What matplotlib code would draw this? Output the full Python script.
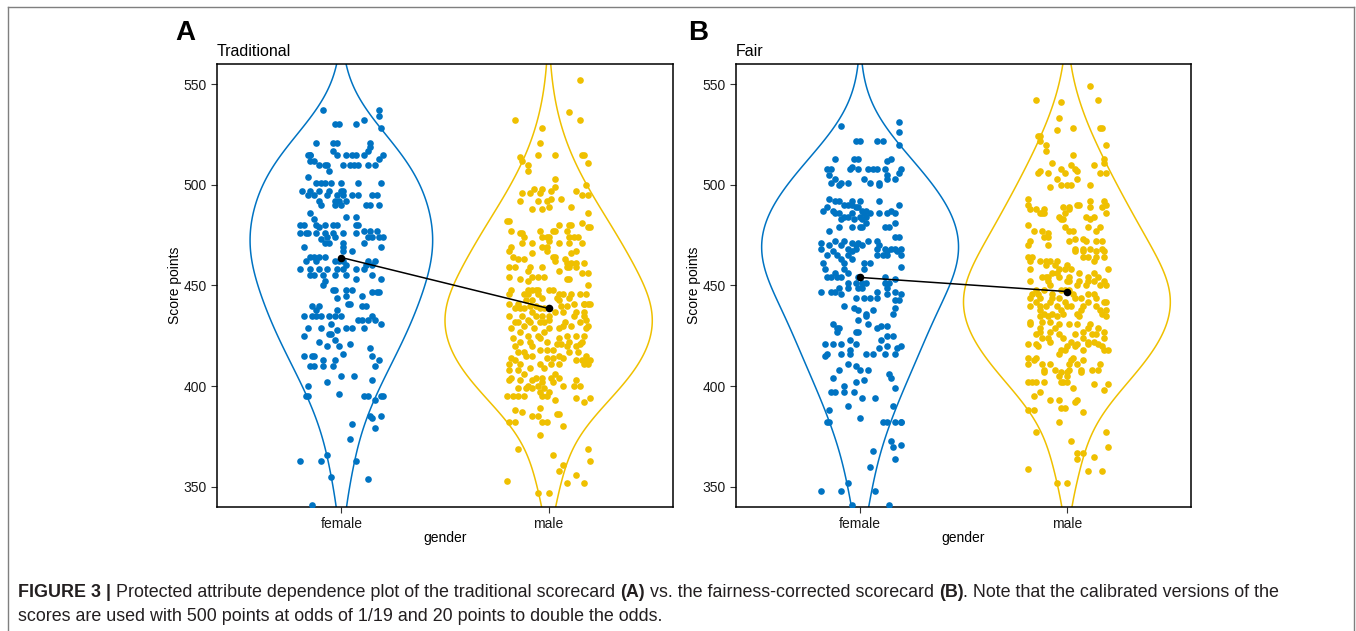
import numpy as np
import matplotlib
matplotlib.use("Agg")
import matplotlib.pyplot as plt
from matplotlib import mlab
from matplotlib.lines import Line2D

plt.rcParams['font.family'] = ['Liberation Sans', 'DejaVu Sans']

categories = ["female", "male"]
colors = ["#0073C2", "#EFC000"]
panel_titles = ["Traditional", "Fair"]
panel_tags = ["A", "B"]

# group means (black dots joined by a line)
mean_trad = [463.9, 438.6]
mean_fair = [454.0, 447.0]

# ---- Traditional, female ----
trad_f_score = [
    537, 537, 534, 528, 532, 530, 530, 530,
    521, 521, 521, 521, 519, 517, 517,
    515, 515, 515, 515, 515, 515, 515, 515, 515,
    513, 512, 512, 510, 510,
    510, 510, 510, 510, 510, 510, 510,
    507, 504,
    501, 501, 501, 501, 501, 501, 501,
    497, 497, 497, 497, 497, 497,
    495, 495, 495, 495, 495, 495, 495, 495, 495,
    492, 492, 492, 492, 490, 490, 490, 490, 490, 490,
    486, 484, 484, 483,
    480, 480, 480, 480, 480, 480, 480, 480, 479,
    477, 477, 477, 476, 476, 476, 476, 476, 476, 476, 476,
    474, 474, 474, 474, 474, 474, 473,
    471, 471, 471, 471, 469, 469, 469, 467, 467,
    464, 464, 464, 464, 462, 462, 462, 462, 462, 462, 462,
    460, 460, 460, 458, 458, 458, 458, 458, 458, 458, 458,
    455, 455, 455, 455, 455, 455, 453, 453, 452,
    450, 448, 448, 448, 448, 447, 447, 447,
    445, 445, 444, 441, 441,
    440, 440, 440, 440, 438, 438,
    435, 435, 435, 435, 435, 435, 435, 435,
    433, 433, 433, 433, 431, 431,
    429, 429, 429, 429, 429, 428,
    426, 426, 425, 423, 422, 421, 420, 420, 419,
    416, 415, 415, 415, 415, 413, 413, 413,
    410, 410, 410, 410, 410, 405, 405, 403, 402, 400,
    396, 395, 395, 395, 395, 395, 395, 393,
    385, 385, 384, 381, 379, 374,
    366, 363, 363, 363, 355, 354, 341,
]
trad_f_jit = [
    -0.09, 0.18, 0.18, 0.19, 0.11, -0.03, -0.01, 0.07,
    -0.12, -0.04, -0.02, 0.14, 0.14, -0.04, 0.13,
    -0.16, -0.15, -0.15, -0.02, 0.02, 0.05, 0.07, 0.11, 0.20,
    0.18, -0.15, -0.13, 0.04, 0.06,
    -0.11, -0.08, -0.07, 0.01, 0.08, 0.13, 0.16,
    -0.06, -0.16,
    -0.12, -0.10, -0.08, -0.05, 0.00, 0.08, 0.19,
    -0.19, -0.15, -0.11, -0.06, 0.00, 0.01,
    0.15, 0.17, -0.16, -0.13, -0.07, -0.02, 0.01, 0.05, 0.08,
    -0.11, -0.03, -0.01, 0.02, -0.10, -0.03, 0.00, 0.12, 0.14, 0.18,
    -0.15, 0.02, 0.07, -0.13,
    -0.20, -0.18, -0.12, -0.08, -0.04, -0.02, 0.07, 0.08, -0.11,
    0.17, 0.11, 0.14, -0.20, -0.17, -0.16, -0.12, -0.08, -0.04, 0.01, 0.07,
    0.20, -0.07, -0.03, 0.13, 0.15, 0.18, -0.10,
    -0.08, -0.06, 0.01, 0.11, -0.18, 0.01, 0.19, 0.01, 0.05,
    -0.15, -0.13, -0.11, -0.08, -0.17, -0.12, -0.03, -0.01, 0.01, 0.13, 0.16,
    0.02, 0.12, 0.15, -0.20, -0.15, -0.11, -0.07, -0.02, 0.01, 0.07, 0.11,
    -0.15, -0.13, -0.09, -0.03, 0.02, 0.15, 0.07, 0.19, -0.08,
    -0.09, -0.04, -0.03, 0.02, 0.05, 0.15, 0.17, 0.18,
    0.02, 0.10, -0.02, 0.03, 0.04,
    0.10, 0.12, -0.14, -0.11, -0.12, -0.02,
    -0.18, -0.14, -0.12, -0.10, -0.06, -0.03, 0.00, 0.15,
    0.08, 0.10, 0.13, 0.16, -0.05, 0.19,
    -0.16, -0.10, 0.02, 0.05, 0.11, -0.02,
    -0.06, -0.05, -0.18, -0.03, -0.11, 0.04, -0.07, -0.01, 0.14,
    0.01, -0.18, -0.14, -0.13, 0.15, -0.09, -0.03, 0.18,
    -0.15, -0.13, -0.09, -0.04, 0.16, 0.00, 0.06, 0.15, -0.07, -0.16,
    -0.01, -0.17, -0.16, 0.11, 0.13, 0.19, 0.20, 0.16,
    0.14, 0.19, 0.15, 0.05, 0.16, 0.04,
    -0.07, -0.20, -0.10, 0.07, -0.05, 0.13, -0.14,
]

# ---- Traditional, male ----
trad_m_score = [
    552, 536, 532, 532, 528, 521,
    515, 515, 515, 515, 514, 512, 511, 510,
    507, 503, 500, 499, 498, 498, 497, 497,
    496, 496, 496, 495, 495, 493, 493,
    492, 492, 492, 489, 489, 488, 488, 486,
    482, 482, 481, 480, 480, 480, 479, 479,
    477, 477, 477, 477, 477, 476, 476,
    474, 474, 474, 474, 474, 474, 474, 472,
    471, 471, 471, 471, 471, 469, 469, 469,
    467, 467, 467, 466, 466,
    464, 464, 464, 463, 463, 463, 462,
    461, 461, 461, 461,
    459, 459, 459, 459, 459, 459, 459,
    457, 457, 456, 456,
    454, 454, 454, 454, 453, 453, 453, 452,
    450, 448, 448, 448, 448, 448, 448, 448,
    446, 446, 446, 446, 446, 446, 446, 446, 446,
    444, 444, 444, 443, 443, 443,
    441, 441, 441, 441, 441, 441, 441,
    440, 440, 440, 440, 439, 439, 439, 439, 439,
    437, 437, 437, 437, 437,
    435, 435, 435, 435, 435, 435, 435,
    433, 433, 433,
    432, 432, 432, 432, 432, 432, 432,
    430, 430, 430, 430,
    429, 429, 429, 429, 429, 427, 427,
    425, 425, 425, 425, 425, 424, 424, 424,
    422, 422, 422, 422, 422, 421, 421, 421,
    420, 420, 420, 420, 418, 418, 418,
    417, 417, 417, 417, 415, 415, 415, 415,
    414, 414, 414, 414, 413, 413, 413, 413, 413,
    411, 411, 411, 411, 411, 411, 411,
    409, 409, 408, 408, 406, 406,
    404, 404, 404, 404, 404, 403, 403, 403, 403,
    402, 402, 400, 400, 400, 400, 400,
    399, 399, 399, 399, 397, 397,
    395, 395, 395, 395, 395, 395, 394, 394, 393,
    392, 389, 388, 387, 386, 386, 385, 385,
    382, 382, 382, 382, 380, 376,
    369, 369, 366, 363, 361, 358, 356, 353, 352, 352, 347, 347,
]
trad_m_jit = [
    0.15, 0.10, 0.15, -0.16, -0.03, -0.04,
    0.03, -0.05, 0.16, 0.17, -0.14, -0.13, 0.19, -0.10,
    -0.10, 0.03, 0.18, 0.03, -0.07, -0.03, 0.01, 0.13,
    -0.13, -0.09, -0.04, 0.16, 0.19, 0.01, 0.06,
    -0.14, -0.05, -0.01, 0.00, 0.11, -0.08, -0.03, 0.19,
    -0.20, -0.19, 0.16, 0.05, 0.10, 0.11, 0.19, 0.20,
    -0.18, -0.04, 0.02, 0.03, 0.09, -0.14, -0.13,
    -0.12, -0.03, -0.01, 0.00, 0.10, 0.12, 0.14, 0.00,
    -0.13, -0.08, 0.05, 0.10, 0.16, -0.18, -0.03, -0.01,
    -0.19, -0.01, 0.13, -0.08, 0.11,
    -0.17, 0.02, 0.03, -0.15, -0.12, 0.08, 0.03,
    0.09, 0.11, 0.13, 0.17,
    -0.19, -0.16, -0.09, -0.03, 0.09, 0.10, 0.13,
    -0.10, 0.05, 0.16, 0.19,
    -0.19, -0.08, -0.05, -0.02, -0.14, 0.09, 0.10, -0.10,
    0.19, -0.18, -0.10, -0.08, -0.06, -0.05, 0.00, 0.02,
    -0.19, -0.12, 0.07, 0.11, 0.15, -0.10, -0.05, 0.05, 0.18,
    -0.03, 0.04, 0.10, -0.11, -0.08, 0.05,
    -0.19, -0.15, 0.12, 0.17, 0.17, 0.19, 0.20,
    -0.09, -0.06, 0.06, 0.09, -0.16, -0.14, -0.12, -0.04, -0.02,
    0.13, 0.17, -0.08, 0.03, 0.07,
    -0.19, -0.13, -0.06, -0.03, 0.00, 0.12, 0.17,
    -0.10, 0.00, 0.18,
    -0.16, -0.15, -0.09, -0.04, -0.02, 0.08, 0.15,
    -0.12, 0.07, 0.11, 0.19,
    -0.18, -0.07, 0.00, 0.05, 0.18, -0.14, -0.02,
    -0.10, -0.05, 0.09, 0.13, 0.17, -0.17, -0.04, 0.05,
    -0.14, -0.09, -0.01, 0.10, 0.16, 0.04, 0.06, 0.15,
    -0.16, -0.08, 0.09, 0.13, -0.04, -0.01, 0.02,
    -0.15, -0.12, 0.10, 0.14, -0.11, -0.08, 0.05, 0.18,
    -0.18, -0.01, 0.02, 0.07, -0.16, 0.13, 0.16, 0.18, 0.20,
    -0.19, -0.14, -0.04, 0.01, 0.05, 0.17, 0.19,
    -0.09, -0.02, -0.19, -0.15, -0.12, 0.03,
    -0.18, -0.06, -0.03, 0.01, 0.05, -0.19, -0.14, -0.08, 0.13,
    -0.03, 0.02, -0.10, -0.05, 0.07, 0.12, 0.15,
    -0.15, -0.11, -0.08, -0.02, -0.04, 0.00,
    -0.20, -0.17, -0.15, -0.12, -0.03, -0.01, 0.13, 0.20, 0.03,
    0.17, -0.04, -0.16, -0.13, 0.04, 0.05, -0.08, -0.05,
    -0.19, -0.16, -0.03, -0.01, 0.07, -0.04,
    -0.15, 0.19, 0.02, 0.20, 0.07, 0.05, 0.13, -0.20, 0.09, 0.17, -0.05, 0.00,
]

# ---- Fair, female ----
fair_f_score = [
    531, 529, 526, 522, 522, 522, 522, 520,
    513, 513, 513, 513, 512, 509,
    508, 508, 508, 508, 508, 508, 508, 508, 508,
    506, 505, 505,
    503, 503, 503, 503,
    501, 501, 501, 501, 501, 500, 500,
    493, 492, 492, 492, 492, 492,
    490, 490, 490, 490, 489, 489, 489,
    487, 487, 487, 487, 487,
    486, 486, 486, 486, 486, 486, 486, 486,
    484, 484, 484, 484, 483, 483, 483,
    481, 481, 479, 479, 479, 479, 479, 479,
    477, 474, 474,
    472, 472, 472, 472, 471, 471, 471,
    470, 470, 470, 470, 470,
    468, 468, 468, 468, 468, 468, 468, 468,
    467, 467, 467, 467,
    465, 465, 465, 465, 465, 465, 465,
    463, 463, 461, 461, 461, 461,
    459, 458, 458, 458, 456, 456,
    454, 454, 454, 454, 454, 454, 453,
    451, 451, 451, 451, 451, 451,
    449, 449, 449, 449, 449,
    447, 447, 447, 447, 447,
    446, 446, 446, 444, 444, 444, 444,
    443, 443, 440, 439, 439, 438, 438,
    436, 436, 435, 433,
    431, 431, 430, 430, 429, 429, 429,
    427, 427, 427, 425, 425,
    423, 423, 421, 421, 421, 421,
    420, 420, 419, 419, 418,
    416, 416, 416, 416, 416, 416, 416, 415,
    411, 410, 408, 408, 408, 406,
    404, 404, 403, 402, 400, 399,
    397, 397, 397, 397, 394, 394,
    390, 390, 388, 384,
    382, 382, 382, 382, 382, 382, 382,
    373, 371, 370, 368, 364, 360, 352, 348, 348, 348, 341, 341,
]
fair_f_jit = [
    0.19, -0.09, 0.19, -0.02, 0.00, 0.08, 0.11, 0.19,
    -0.12, -0.03, -0.01, 0.15, 0.13, -0.04,
    -0.16, -0.14, -0.05, -0.01, 0.04, 0.06, 0.08, 0.12, 0.20,
    0.19, -0.15, 0.13,
    -0.12, 0.02, 0.13, 0.17,
    -0.14, -0.09, -0.06, 0.05, 0.09, -0.10, 0.09,
    -0.15, -0.12, -0.10, -0.04, 0.00, 0.09,
    -0.08, -0.06, -0.04, 0.19, -0.16, -0.01, -0.02,
    -0.18, -0.13, 0.01, 0.03, 0.15,
    -0.12, -0.10, -0.04, 0.02, 0.05, 0.09, 0.13, 0.17,
    -0.08, -0.06, 0.00, 0.03, -0.09, -0.03, 0.01,
    0.03, 0.17, -0.10, -0.04, 0.00, 0.01, 0.12, 0.14,
    -0.15, 0.17, 0.19,
    -0.12, -0.08, 0.04, 0.08, -0.19, -0.04, -0.01,
    -0.15, -0.09, -0.02, 0.01, 0.09,
    -0.19, -0.06, -0.02, 0.08, 0.12, 0.15, 0.17, 0.20,
    -0.13, -0.04, 0.13, 0.18,
    -0.16, -0.11, -0.06, 0.08, 0.11, 0.13, 0.20,
    -0.09, -0.04, -0.18, -0.08, 0.02, 0.05,
    0.20, -0.17, -0.08, 0.02, -0.12, -0.06,
    -0.16, -0.14, -0.11, -0.09, -0.01, 0.12, 0.17,
    -0.06, -0.02, 0.01, 0.03, 0.12, 0.14,
    -0.10, -0.06, -0.01, 0.01, 0.13,
    -0.19, -0.14, -0.12, 0.08, 0.17,
    -0.09, 0.13, 0.20, -0.02, 0.02, 0.05, 0.08,
    0.19, 0.17, -0.08, -0.03, 0.17, -0.01, 0.06,
    0.03, 0.16, 0.03, -0.01,
    -0.13, 0.04, 0.10, 0.13, -0.10, -0.11, 0.08,
    -0.11, -0.02, -0.01, 0.13, 0.16,
    -0.05, 0.10, -0.17, -0.13, -0.09, -0.02,
    0.13, 0.20, 0.09, 0.18, -0.05,
    -0.16, -0.09, -0.05, 0.03, 0.06, 0.12, 0.17, -0.17,
    -0.06, -0.02, -0.10, 0.00, 0.04, 0.14,
    -0.13, 0.15, 0.02, -0.02, -0.08, 0.17,
    -0.14, -0.12, -0.08, -0.03, 0.01, 0.07,
    -0.06, 0.16, -0.15, 0.00,
    -0.16, -0.15, 0.11, 0.13, 0.17, 0.20, 0.20,
    0.15, 0.20, 0.16, 0.06, 0.17, 0.05, -0.06, -0.19, -0.09, 0.07, -0.04, 0.14,
]

# ---- Fair, male ----
fair_m_score = [
    549, 542, 542, 541, 533, 528, 528, 528,
    527, 524, 524, 522, 520, 520, 517, 515,
    513, 511, 511, 510, 510, 508, 508, 507, 507,
    506, 506, 506, 506, 506, 503, 503,
    500, 500, 500, 500, 499,
    493, 492, 492,
    490, 490, 490, 490, 489, 489, 489, 489,
    488, 488, 488, 488, 486, 486, 486, 486, 486,
    484, 484, 484, 483, 483, 483,
    480, 479, 479, 479, 477, 477, 477, 477, 477,
    476, 474, 474, 473, 473,
    472, 472, 472, 472, 472, 470, 470,
    468, 468, 468, 468, 467, 467, 467, 467,
    464, 464, 464, 464, 464, 464,
    462, 462, 462, 462, 462, 462,
    460, 460, 460, 458, 458, 458, 458, 458,
    456, 456, 456, 456,
    454, 454, 454, 454, 454, 454, 454,
    452, 452, 452, 452, 452, 452, 452, 452,
    450, 450, 450, 450, 450,
    448, 448, 448, 448, 448,
    446, 446, 446, 446, 446, 446,
    444, 444, 444, 444, 444, 444, 444,
    442, 442, 442, 442, 442, 442,
    440, 440, 440, 440, 440, 440, 440, 440,
    438, 438, 438, 438, 438,
    436, 436, 436, 436, 436,
    435, 435, 435, 435, 435,
    432, 432, 432, 431, 431, 431, 431, 431,
    429, 429, 429, 429, 427, 427, 427, 427,
    426, 426, 426, 426, 426, 424, 424, 424, 424, 424,
    422, 422, 422, 422, 421, 421, 421, 421, 421,
    420, 420, 420, 420, 418, 418, 418, 418, 418,
    416, 414, 414, 414, 413, 413, 413,
    411, 411, 411, 411, 411, 411,
    408, 408, 408, 408, 408, 408, 407, 407, 407, 407,
    405, 405, 402, 402, 402, 402, 402, 402, 402,
    401, 401, 399, 398, 397, 395,
    393, 393, 393, 392, 389, 389, 388, 388, 387,
    382, 377, 377, 373, 370, 367, 367, 365, 364, 359, 358, 358, 352, 352,
]
fair_m_jit = [
    0.11, -0.15, 0.15, -0.03, -0.04, 0.03, 0.16, 0.17,
    -0.05, -0.14, -0.13, -0.13, 0.19, -0.10, -0.10, 0.03,
    0.18, -0.07, 0.18, 0.13, 0.02, -0.03, 0.04, -0.13, 0.05,
    -0.14, -0.09, -0.01, 0.16, 0.19, -0.05, 0.05,
    -0.03, 0.00, 0.02, 0.11, -0.08,
    -0.19, 0.11, 0.18,
    -0.19, 0.05, 0.06, 0.19, -0.02, 0.11, 0.01, 0.17,
    -0.18, -0.15, -0.11, 0.01, -0.13, -0.12, -0.11, -0.01, 0.19,
    -0.04, 0.09, 0.13, -0.03, -0.02, 0.11,
    -0.19, -0.01, 0.10, 0.16, -0.16, -0.12, 0.01, 0.03, 0.14,
    -0.09, -0.11, -0.09, 0.04, 0.08,
    -0.18, 0.01, 0.09, 0.14, 0.17, -0.19, -0.09,
    0.04, 0.08, 0.11, 0.17, 0.04, 0.08, 0.14, 0.18,
    -0.19, -0.17, 0.08, 0.10, 0.14, 0.18,
    -0.18, -0.13, -0.10, -0.08, -0.05, 0.13,
    0.00, -0.10, -0.06, -0.18, -0.04, -0.01, 0.02, 0.20,
    -0.07, -0.05, 0.06, 0.13,
    -0.12, -0.10, -0.09, -0.04, 0.01, 0.10, 0.15,
    -0.18, -0.09, 0.00, 0.01, 0.06, 0.10, 0.13, 0.18,
    -0.08, 0.05, 0.09, 0.16, 0.19,
    -0.15, -0.11, -0.03, -0.01, 0.01,
    -0.17, -0.14, -0.07, 0.03, 0.10, 0.13,
    -0.18, -0.13, -0.07, -0.04, 0.04, 0.07, 0.14,
    -0.15, -0.08, -0.01, 0.10, 0.18, 0.19,
    -0.18, -0.13, -0.10, -0.05, 0.00, 0.02, 0.08, 0.14,
    -0.13, -0.03, 0.07, 0.16, 0.19,
    -0.11, -0.07, -0.02, 0.05, 0.17,
    -0.13, -0.09, -0.05, 0.06, 0.19,
    -0.18, -0.12, -0.08, -0.18, -0.04, 0.01, 0.05, 0.11,
    -0.13, -0.06, 0.10, 0.15, -0.13, -0.08, 0.08, 0.18,
    -0.15, -0.04, 0.04, 0.12, 0.14, -0.12, -0.09, -0.02, 0.08, 0.18,
    -0.08, 0.02, 0.10, 0.13, -0.19, -0.15, 0.05, 0.10, 0.15,
    -0.14, 0.00, 0.04, 0.17, -0.03, -0.01, 0.08, 0.18, 0.20,
    -0.04, -0.19, -0.15, 0.03, 0.02, 0.08, -0.16,
    -0.19, -0.12, -0.08, 0.01, 0.05, 0.16,
    -0.11, -0.06, 0.01, 0.07, 0.12, 0.15, -0.11, -0.03, 0.00, 0.07,
    -0.04, 0.00, -0.19, -0.17, -0.15, -0.11, -0.03, -0.02, 0.00,
    0.13, 0.20, 0.03, 0.18, -0.13, -0.16,
    -0.08, -0.04, 0.05, 0.04, -0.03, -0.01, -0.19, -0.16, 0.08,
    -0.04, -0.15, 0.19, 0.02, 0.20, 0.05, 0.08, 0.13, 0.05, -0.19, 0.10, 0.17, -0.05, 0.00,
]

panels = [
    ([trad_f_score, trad_m_score], [trad_f_jit, trad_m_jit], mean_trad),
    ([fair_f_score, fair_m_score], [fair_f_jit, fair_m_jit], mean_fair),
]

W, H = 1356, 631
fig = plt.figure(figsize=(W / 100, H / 100), dpi=100)

ax_rects = [
    [217 / W, 1 - 507 / H, 456 / W, 443 / H],
    [736 / W, 1 - 507 / H, 455 / W, 443 / H],
]

grid = np.linspace(300, 600, 500)

for k, (scores, jits, means) in enumerate(panels):
    ax = fig.add_axes(ax_rects[k])
    pos = [1, 2]

    # violins from a gaussian kde of each group, widths scaled by area
    stats = []
    for s in scores:
        s = np.asarray(s, dtype=float)
        kde = mlab.GaussianKDE(s, bw_method=0.45)
        vals = kde.evaluate(grid)
        stats.append(dict(coords=grid, vals=vals, mean=s.mean(), median=np.median(s),
                          min=s.min(), max=s.max()))
    peaks = [st["vals"].max() for st in stats]
    widths = [1.0 * p / max(peaks) for p in peaks]
    parts = ax.violin(stats, positions=pos, widths=widths,
                      showmeans=False, showextrema=False, showmedians=False)
    for body, c in zip(parts["bodies"], colors):
        body.set_facecolor("none")
        body.set_edgecolor(c)
        body.set_linewidth(1.1)
        body.set_alpha(1)

    for p, s, j, c in zip(pos, scores, jits, colors):
        ax.scatter(p + np.asarray(j), s, s=23, color=c, linewidths=0, zorder=3)

    ax.plot(pos, means, color="black", lw=1.1, zorder=4)
    ax.scatter(pos, means, s=30, color="black", zorder=5, linewidths=0)

    ax.set_xlim(0.4, 2.6)
    ax.set_ylim(340, 560)
    ax.set_xticks(pos)
    ax.set_xticklabels(categories)
    ax.set_yticks([350, 400, 450, 500, 550])
    ax.tick_params(labelsize=10, labelcolor="#1a1a1a", color="#333333", length=4, width=0.8)
    for sp in ax.spines.values():
        sp.set_linewidth(1.1)
        sp.set_color("black")
    ax.set_xlabel("gender", fontsize=10, labelpad=0)
    ax.set_ylabel("Score points", fontsize=10, labelpad=1)
    ax.set_title(panel_titles[k], loc="left", fontsize=11.5, pad=6)

# panel tags
fig.text(185 / W, 1 - 33 / H, panel_tags[0], fontsize=20, fontweight="bold", ha="center", va="center")
fig.text(698 / W, 1 - 33 / H, panel_tags[1], fontsize=20, fontweight="bold", ha="center", va="center")

# outer frame
frame_c = "#7f7f7f"
fig.add_artist(Line2D([8 / W, 8 / W], [0, 1 - 7 / H], color=frame_c, lw=1))
fig.add_artist(Line2D([8 / W, 1354 / W], [1 - 7 / H, 1 - 7 / H], color=frame_c, lw=1))
fig.add_artist(Line2D([1354 / W, 1354 / W], [0, 1 - 7 / H], color=frame_c, lw=1))

# caption with mixed weights
cap1 = [
    ("FIGURE 3 | ", "bold"),
    ("Protected attribute dependence plot of the traditional scorecard ", "normal"),
    ("(A)", "bold"),
    (" vs. the fairness-corrected scorecard ", "normal"),
    ("(B)", "bold"),
    (". Note that the calibrated versions of the", "normal"),
]
cap2 = [("scores are used with 500 points at odds of 1/19 and 20 points to double the odds.", "normal")]

renderer = fig.canvas.get_renderer()


def draw_line(pieces, x0, y):
    x = x0
    for txt, wt in pieces:
        t = fig.text(x / W, 1 - y / H, txt, fontsize=12.85, fontweight=wt,
                     color="#231f20", va="baseline", ha="left")
        x += t.get_window_extent(renderer).width


draw_line(cap1, 18, 597)
draw_line(cap2, 18, 621)

fig.savefig("out.png", dpi=100)
